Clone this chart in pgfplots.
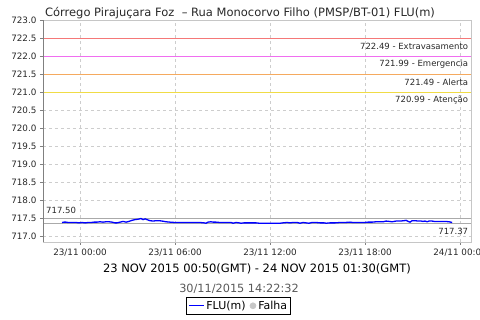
\documentclass[border=0pt]{standalone}
\usepackage{fontspec}
\setmainfont{DejaVu Sans}
\usepackage{pgfplots}
\pgfplotsset{compat=1.18}
\definecolor{gridc}{RGB}{205,205,205}
\definecolor{lred}{RGB}{245,120,120}
\definecolor{lmag}{RGB}{240,110,240}
\definecolor{lora}{RGB}{245,170,95}
\definecolor{lyel}{RGB}{240,220,70}
\definecolor{refg}{RGB}{170,170,170}
\definecolor{txt}{RGB}{40,40,40}
\pgfplotstableread{
h v
-1.14 717.39
-1.01 717.40
-0.88 717.40
-0.76 717.39
-0.51 717.39
-0.25 717.39
-0.06 717.38
0.13 717.39
0.32 717.38
0.51 717.39
0.69 717.39
0.88 717.40
1.07 717.40
1.26 717.41
1.45 717.40
1.64 717.41
1.83 717.41
2.02 717.40
2.21 717.38
2.34 717.38
2.53 717.40
2.72 717.42
2.91 717.40
3.09 717.42
3.28 717.45
3.47 717.47
3.66 717.48
3.85 717.50
3.98 717.47
4.11 717.49
4.29 717.46
4.42 717.44
4.61 717.43
4.80 717.44
4.99 717.44
5.18 717.43
5.43 717.41
5.68 717.40
6.00 717.39
6.32 717.39
6.63 717.39
6.95 717.39
7.26 717.39
7.58 717.39
7.83 717.38
7.96 717.37
8.08 717.40
8.27 717.41
8.40 717.40
8.59 717.40
8.84 717.39
9.16 717.39
9.54 717.39
9.66 717.37
9.85 717.39
10.04 717.38
10.17 717.37
10.36 717.38
10.61 717.38
10.86 717.38
11.12 717.38
11.31 717.37
11.62 717.37
12.00 717.37
12.38 717.37
12.63 717.37
12.82 717.38
13.07 717.39
13.26 717.38
13.45 717.39
13.71 717.39
13.89 717.37
14.08 717.39
14.27 717.38
14.46 717.37
14.65 717.39
14.91 717.39
15.16 717.38
15.41 717.38
15.54 717.37
15.79 717.38
16.11 717.38
16.42 717.39
16.74 717.39
17.05 717.40
17.24 717.39
17.43 717.39
17.68 717.39
17.94 717.39
18.19 717.40
18.44 717.40
18.69 717.41
18.95 717.41
19.14 717.41
19.33 717.43
19.52 717.42
19.71 717.41
19.96 717.43
20.21 717.43
20.46 717.44
20.59 717.45
20.72 717.42
20.84 717.40
20.97 717.44
21.16 717.44
21.35 717.43
21.54 717.43
21.66 717.42
21.79 717.43
21.92 717.41
22.04 717.43
22.23 717.43
22.36 717.42
22.55 717.42
22.80 717.42
23.05 717.42
23.31 717.41
23.50 717.39
}\flu
\begin{document}
\begin{tikzpicture}
\useasboundingbox (0pt,0pt) rectangle (480pt,320pt);
\begin{axis}[at={(43pt,78pt)}, anchor=south west, scale only axis,
  width=428pt, height=222pt,
  xmin=-2.34, xmax=24.69, ymin=716.85, ymax=723.0,
  xtick={0,6,12,18,24},
  xticklabels={23/11 00:00,23/11 06:00,23/11 12:00,23/11 18:00,24/11 00:00},
  ytick={717,717.5,718,718.5,719,719.5,720,720.5,721,721.5,722,722.5,723},
  yticklabel style={/pgf/number format/fixed,/pgf/number format/fixed zerofill,/pgf/number format/precision=1},
  /pgf/number format/assume math mode=true,
  scaled y ticks=false,
  ticklabel style={font=\fontsize{8.8}{10}\selectfont, text=txt},
  grid=major, major grid style={dashed, gridc, line width=0.5pt},
  axis line style={gray!45, line width=0.6pt},
  tick align=outside, major tick length=3pt, xtick pos=bottom, ytick pos=left,
  tick style={gray, line width=0.6pt},
  legend style={at={(0.457,-0.248)}, anchor=north, legend columns=2,
    font=\fontsize{11}{13}\selectfont, inner sep=1.5pt,
    /tikz/every even column/.append style={column sep=2pt}},
  legend style={draw=black, line width=0.6pt},
]
\addplot[lred, line width=0.7pt, forget plot] coordinates {(-2.34,722.49) (24.69,722.49)};
\addplot[lmag, line width=0.7pt, forget plot] coordinates {(-2.34,721.99) (24.69,721.99)};
\addplot[lora, line width=0.7pt, forget plot] coordinates {(-2.34,721.49) (24.69,721.49)};
\addplot[lyel, line width=0.7pt, forget plot] coordinates {(-2.34,720.99) (24.69,720.99)};
\addplot[refg, line width=0.7pt, forget plot] coordinates {(-2.34,717.50) (24.69,717.50)};
\addplot[refg, line width=0.7pt, forget plot] coordinates {(-2.34,717.37) (24.69,717.37)};
\addplot[blue, line width=1.3pt, forget plot] table[x=h,y=v] {\flu};
\addlegendimage{legend image code/.code={\draw[blue, line width=1.3pt] (0pt,0pt) -- (15pt,0pt);}}
\addlegendentry{FLU(m)}
\addlegendimage{legend image code/.code={\fill[gray!45] (4pt,0pt) circle (3pt);}}
\addlegendentry{Falha}
\draw[gray, line width=0.6pt] (rel axis cs:0,0) -- (rel axis cs:0,1);
\draw[gray, line width=0.6pt] (rel axis cs:0,0) -- (rel axis cs:1,0);
\begin{scope}[every node/.style={font=\fontsize{8.5}{10}\selectfont, text=txt, inner sep=0pt}]
\node[anchor=east] at (axis cs:24.52,722.27) {722.49 - Extravasamento};
\node[anchor=east] at (axis cs:24.52,721.77) {721.99 - Emergencia};
\node[anchor=east] at (axis cs:24.52,721.27) {721.49 - Alerta};
\node[anchor=east] at (axis cs:24.52,720.77) {720.99 - Atenção};
\node[anchor=west] at (axis cs:-2.15,717.72) {717.50};
\node[anchor=east] at (axis cs:24.52,717.14) {717.37};
\end{scope}
\end{axis}
\node[anchor=base, text=txt, font=\fontsize{11.5}{13}\selectfont] at (240pt,303pt) {Córrego Pirajuçara Foz \ – Rua Monocorvo Filho (PMSP/BT-01) FLU(m)};
\node[text=black, font=\fontsize{11.5}{13}\selectfont] at (257pt,51pt) {23 NOV 2015 00:50(GMT) - 24 NOV 2015 01:30(GMT)};
\node[text=black!65, font=\fontsize{11.3}{13}\selectfont] at (239pt,31pt) {30/11/2015 14:22:32};
\end{tikzpicture}
\end{document}
